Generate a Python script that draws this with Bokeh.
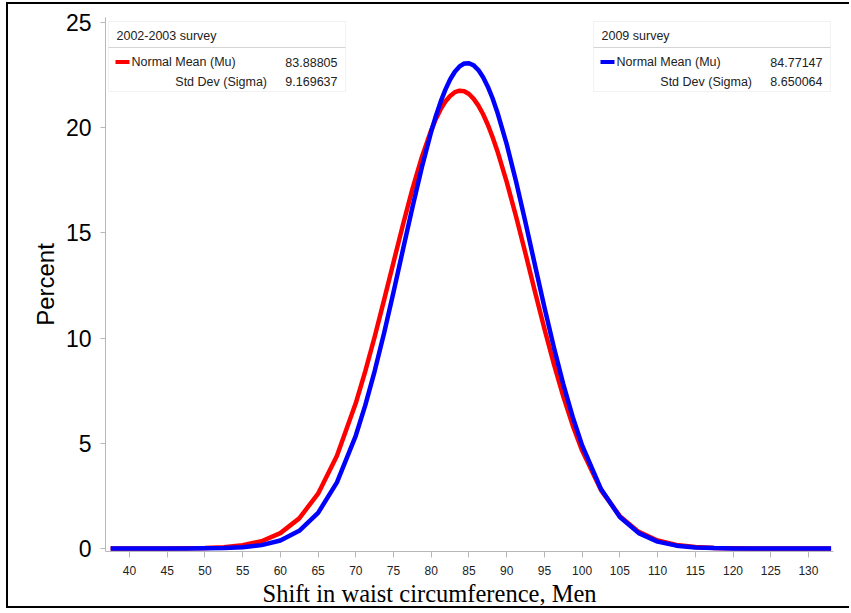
from bokeh.plotting import figure
from bokeh.models import Range1d, FixedTicker, Label, BoxAnnotation, Title
from bokeh.embed import file_html
from bokeh.resources import INLINE

# ---- data ----
x_vals = [37.5, 40, 42.5, 45, 47.5, 50, 52.5, 55, 57.5, 60, 62.5, 65, 67.5, 70,
          71.25, 72.5, 73.75, 75, 76.25, 77.5, 78.75, 80, 80.625, 81.25, 81.875, 82.5,
          83.125, 83.75, 84.375, 85, 85.625, 86.25, 86.875, 87.5, 88.125, 88.75, 90,
          91.25, 92.5, 93.75, 95, 96.25, 97.5, 98.75, 100,
          102.5, 105, 107.5, 110, 112.5, 115, 117.5, 120, 122.5, 125, 127.5, 130, 133]
pct_2002 = [0.0001, 0.0002, 0.0008, 0.0027, 0.0083, 0.0235, 0.062, 0.152, 0.346, 0.731,
            1.432, 2.606, 4.405, 6.909, 8.414, 10.06, 11.81, 13.60, 15.38, 17.07, 18.59,
            19.88, 20.42, 20.87, 21.235, 21.50, 21.68, 21.75, 21.72, 21.59, 21.36, 21.04,
            20.63, 20.13, 19.55, 18.90, 17.42, 15.76, 14.00,
            12.20, 10.44, 8.77, 7.23, 5.85, 4.65, 2.773, 1.536, 0.790, 0.377, 0.167,
            0.069, 0.026, 0.0093, 0.0031, 0.0009, 0.0003, 0.0001, 0.0]
pct_2009 = [0.0, 0.0, 0.0002, 0.0006, 0.0021, 0.0071, 0.022, 0.062, 0.160, 0.382,
            0.838, 1.692, 3.141, 5.366, 6.796, 8.43, 10.24, 12.18, 14.20, 16.20, 18.10,
            19.81, 20.56, 21.23, 21.80, 22.28, 22.65, 22.90, 23.04, 23.05, 22.95, 22.73,
            22.39, 21.94, 21.39, 20.74, 19.21, 17.42, 15.47,
            13.46, 11.46, 9.56, 7.81, 6.25, 4.90, 2.822, 1.497, 0.730, 0.328, 0.135,
            0.051, 0.018, 0.0058, 0.0017, 0.0005, 0.0001, 0.0, 0.0]
x_ticks = list(range(40, 131, 5))
y_ticks = [0, 5, 10, 15, 20, 25]
legend_titles = ["2002-2003 survey", "2009 survey"]
mu_vals = ["83.88805", "84.77147"]
sigma_vals = ["9.169637", "8.650064"]
colors = ["#ff0000", "#0000ff"]

FONT = "Liberation Sans"

p = figure(width=843, height=606, output_backend="svg", toolbar_location=None,
           x_range=Range1d(36.82, 133.32), y_range=Range1d(-0.1425, 25.226),
           min_border_left=97, min_border_right=18, min_border_top=13, min_border_bottom=59)
p.styles = {"margin-left": "6px", "margin-top": "2px",
            "border-left": "2px solid black", "border-top": "2px solid black",
            "border-bottom": "2px solid black"}
p.outline_line_color = None
p.grid.visible = False
p.background_fill_color = "white"
p.border_fill_color = "white"

p.line(x_vals, pct_2002, line_color=colors[0], line_width=4.5, line_join="round")
p.line(x_vals, pct_2009, line_color=colors[1], line_width=4.5, line_join="round")

ax = p.xaxis[0]
ax.ticker = FixedTicker(ticks=x_ticks)
ax.axis_line_color = "#b8b8b8"
ax.major_tick_line_color = "#b8b8b8"
ax.major_tick_out = 6
ax.major_tick_in = 0
ax.minor_tick_line_color = None
ax.major_label_text_font = FONT
ax.major_label_text_font_size = "12px"
ax.major_label_text_color = "#222222"
ax.major_label_standoff = 8

ay = p.yaxis[0]
ay.ticker = FixedTicker(ticks=y_ticks)
ay.axis_line_color = "#b8b8b8"
ay.major_tick_line_color = "#b8b8b8"
ay.major_tick_out = 5
ay.major_tick_in = 0
ay.minor_tick_line_color = None
ay.major_label_text_font = FONT
ay.major_label_text_font_size = "23px"
ay.major_label_text_color = "black"
ay.major_label_standoff = 9
ay.axis_label = "Percent"
ay.axis_label_text_font = FONT
ay.axis_label_text_font_size = "24px"
ay.axis_label_text_font_style = "normal"
ay.axis_label_text_color = "black"
ay.axis_label_standoff = 4

# x-axis title (offset left of frame centre, as in the original)
p.add_layout(Title(text="Shift in waist circumference, Men", align="left", offset=157,
                   text_font="Liberation Serif", text_font_size="24.5px",
                   text_font_style="normal", text_color="black", standoff=0), "below")

# legend boxes
box_left = [3, 488]
box_w = 237
for i in range(2):
    L = box_left[i]
    p.add_layout(BoxAnnotation(left=L, right=L + box_w, top=530, bottom=460,
                               left_units="screen", right_units="screen",
                               top_units="screen", bottom_units="screen",
                               fill_color="white", fill_alpha=1,
                               line_color="#d4d4d4", line_width=1))
    p.add_layout(BoxAnnotation(left=L, right=L + box_w, top=504.5, bottom=503.5,
                               left_units="screen", right_units="screen",
                               top_units="screen", bottom_units="screen",
                               fill_color="#d4d4d4", fill_alpha=1, line_color=None))
    p.add_layout(BoxAnnotation(left=L + 7, right=L + 21, top=491.5, bottom=487.5,
                               left_units="screen", right_units="screen",
                               top_units="screen", bottom_units="screen",
                               fill_color=colors[i], fill_alpha=1, line_color=None))
    common = dict(x_units="screen", y_units="screen", text_baseline="middle",
                  text_font=FONT, text_font_size="12.5px", text_color="#222222")
    p.add_layout(Label(x=L + 8, y=515.5, text=legend_titles[i], text_align="left", **common))
    p.add_layout(Label(x=L + 23, y=489.5, text="Normal Mean (Mu)", text_align="left", **common))
    p.add_layout(Label(x=L + 158.5, y=470, text="Std Dev (Sigma)", text_align="right", **common))
    p.add_layout(Label(x=L + 229, y=489.5, text=mu_vals[i], text_align="right", **common))
    p.add_layout(Label(x=L + 229, y=470, text=sigma_vals[i], text_align="right", **common))

open("out.html", "w").write(file_html(p, INLINE))
